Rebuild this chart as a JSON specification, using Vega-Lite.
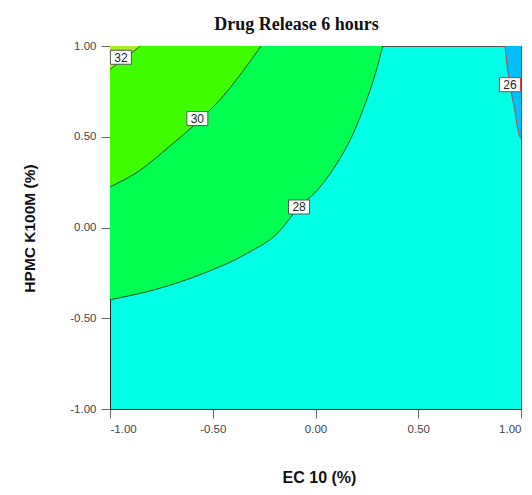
{
  "$schema": "https://vega.github.io/schema/vega-lite/v6.json",
  "width": 411,
  "height": 363,
  "autosize": {"type": "none"},
  "padding": {"left": 110, "top": 46, "right": 11, "bottom": 86},
  "background": "white",
  "title": {
    "text": "Drug Release 6 hours",
    "font": "Liberation Serif",
    "fontSize": 18,
    "fontWeight": "bold",
    "color": "#111111",
    "baseline": "alphabetic",
    "offset": 18,
    "dx": -19,
    "dy": 26
  },
  "config": {
    "view": {"fill": "#00FFE4", "stroke": "#555555", "strokeWidth": 1},
    "axis": {
      "labelFont": "Liberation Sans",
      "labelFontSize": 11.5,
      "labelColor": "#444444",
      "tickColor": "#666666",
      "domainColor": "#222222",
      "tickSize": 9,
      "labelPadding": 5,
      "grid": false,
      "titleFont": "Liberation Sans",
      "titleFontWeight": "bold",
      "titleColor": "#111111",
      "zindex": 1,
      "labelExpr": "replace(datum.label, '\u2212', '-')"
    }
  },
  "datasets": {
    "curves": [
      {"level": 32, "x": -1.0, "y": 0.871},
      {"level": 32, "x": -0.926, "y": 0.935},
      {"level": 32, "x": -0.852, "y": 1.0},
      {"level": 30, "x": -1.0, "y": 0.224},
      {"level": 30, "x": -0.865, "y": 0.307},
      {"level": 30, "x": -0.703, "y": 0.454},
      {"level": 30, "x": -0.573, "y": 0.582},
      {"level": 30, "x": -0.46, "y": 0.71},
      {"level": 30, "x": -0.362, "y": 0.848},
      {"level": 30, "x": -0.265, "y": 1.0},
      {"level": 28, "x": -1.0, "y": -0.398},
      {"level": 28, "x": -0.784, "y": -0.343},
      {"level": 28, "x": -0.541, "y": -0.251},
      {"level": 28, "x": -0.33, "y": -0.141},
      {"level": 28, "x": -0.184, "y": -0.031},
      {"level": 28, "x": -0.079, "y": 0.114},
      {"level": 28, "x": 0.002, "y": 0.197},
      {"level": 28, "x": 0.099, "y": 0.344},
      {"level": 28, "x": 0.18, "y": 0.509},
      {"level": 28, "x": 0.245, "y": 0.692},
      {"level": 28, "x": 0.294, "y": 0.857},
      {"level": 28, "x": 0.327, "y": 1.0},
      {"level": 26, "x": 0.922, "y": 1.0},
      {"level": 26, "x": 0.941, "y": 0.813},
      {"level": 26, "x": 0.966, "y": 0.666},
      {"level": 26, "x": 0.994, "y": 0.501},
      {"level": 26, "x": 1.0, "y": 0.49}
    ],
    "labels": [
      {"level": 32, "label": "32", "x": -0.947, "y": 0.938},
      {"level": 30, "label": "30", "x": -0.575, "y": 0.6},
      {"level": 28, "label": "28", "x": -0.08, "y": 0.113},
      {"level": 26, "label": "26", "x": 0.946, "y": 0.787}
    ]
  },
  "layer": [
    {
      "data": {"name": "curves"},
      "transform": [{"filter": "datum.level == 28"}],
      "mark": {"type": "area", "color": "#00FF50", "interpolate": "monotone"},
      "encoding": {
        "x": {"field": "x", "type": "quantitative", "scale": {"domain": [-1, 1], "nice": false, "zero": false},
          "axis": {"values": [-1, -0.5, 0, 0.5, 1], "format": ".2f", "title": "EC 10 (%)", "titleFontSize": 16, "titleX": 209, "titleY": 68, "titleBaseline": "middle", "titleAlign": "center"}},
        "y": {"field": "y", "type": "quantitative", "scale": {"domain": [-1, 1], "nice": false, "zero": false},
          "axis": {"values": [-1, -0.5, 0, 0.5, 1], "format": ".2f", "title": "HPMC K100M (%)", "titleFontSize": 15.5, "titleX": -81, "titleY": 182, "titleAngle": -90, "titleBaseline": "middle", "titleAlign": "center"}},
        "y2": {"datum": 1}
      }
    },
    {
      "data": {"name": "curves"},
      "transform": [{"filter": "datum.level == 30"}],
      "mark": {"type": "area", "color": "#40FF00", "interpolate": "monotone"},
      "encoding": {
        "x": {"field": "x", "type": "quantitative"},
        "y": {"field": "y", "type": "quantitative"},
        "y2": {"datum": 1}
      }
    },
    {
      "data": {"name": "curves"},
      "transform": [{"filter": "datum.level == 32"}],
      "mark": {"type": "area", "color": "#A8F020", "interpolate": "monotone"},
      "encoding": {
        "x": {"field": "x", "type": "quantitative"},
        "y": {"field": "y", "type": "quantitative"},
        "y2": {"datum": 1}
      }
    },
    {
      "data": {"name": "curves"},
      "transform": [{"filter": "datum.level == 26"}],
      "mark": {"type": "area", "color": "#00BFFF", "interpolate": "monotone"},
      "encoding": {
        "x": {"field": "x", "type": "quantitative"},
        "y": {"field": "y", "type": "quantitative"},
        "y2": {"datum": 1}
      }
    },
    {
      "data": {"name": "curves"},
      "mark": {"type": "line", "strokeWidth": 0.9, "interpolate": "monotone"},
      "encoding": {
        "x": {"field": "x", "type": "quantitative"},
        "y": {"field": "y", "type": "quantitative"},
        "detail": {"field": "level", "type": "nominal"},
        "order": {"field": "x", "type": "quantitative"},
        "color": {"condition": {"test": "datum.level == 26", "value": "#E03030"}, "value": "#1A3A1A"}
      }
    },
    {
      "data": {"name": "labels"},
      "mark": {"type": "rect", "width": 21, "height": 14, "fill": "white", "strokeWidth": 1},
      "encoding": {
        "x": {"field": "x", "type": "quantitative"},
        "y": {"field": "y", "type": "quantitative"},
        "stroke": {"condition": {"test": "datum.level == 26", "value": "#E03030"}, "value": "#555555"}
      }
    },
    {
      "data": {"name": "labels"},
      "mark": {"type": "text", "font": "Liberation Sans", "fontSize": 12, "color": "#222222", "baseline": "middle", "align": "center", "dy": 0.5},
      "encoding": {
        "x": {"field": "x", "type": "quantitative"},
        "y": {"field": "y", "type": "quantitative"},
        "text": {"field": "label", "type": "nominal"}
      }
    }
  ]
}
